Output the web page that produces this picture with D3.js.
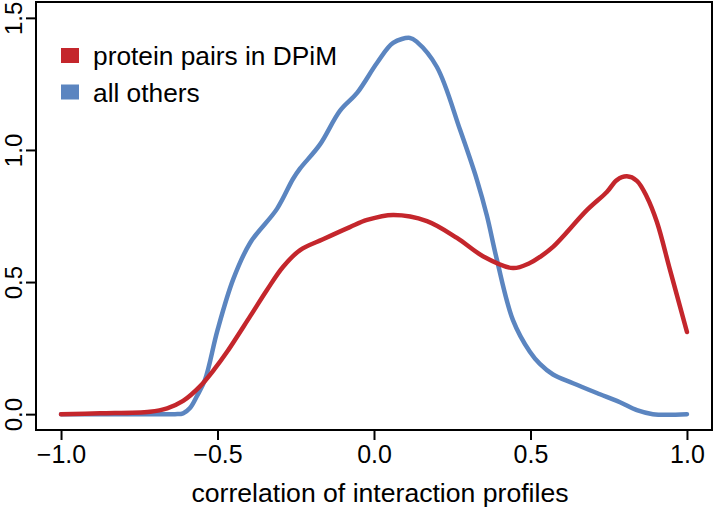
<!DOCTYPE html>
<html>
<head>
<meta charset="utf-8">
<script src="https://cdn.jsdelivr.net/npm/d3@7"></script>
<style>
  html, body { margin: 0; padding: 0; background: #fff; }
  text { font-family: "Liberation Sans", Arial, Helvetica, sans-serif; fill: #000; }
</style>
</head>
<body>
<svg id="chart" width="713" height="511"></svg>
<script>
const seriesNames = ["protein pairs in DPiM", "all others"];
const seriesColors = ["#C4262C", "#5B85C0"];

const dpimX = [-1.0, -0.875, -0.716, -0.661, -0.61, -0.556, -0.51, -0.47, -0.396, -0.342, -0.291, -0.236, -0.163, -0.077, -0.022, 0.061, 0.169, 0.265, 0.348, 0.444, 0.498, 0.53, 0.572, 0.681, 0.744, 0.776, 0.808, 0.84, 0.872, 0.904, 0.946, 1.0];
const dpimY = [0.0, 0.003, 0.009, 0.022, 0.05, 0.105, 0.17, 0.235, 0.37, 0.47, 0.557, 0.621, 0.662, 0.708, 0.735, 0.754, 0.731, 0.667, 0.598, 0.553, 0.572, 0.595, 0.633, 0.773, 0.841, 0.886, 0.9, 0.883, 0.822, 0.727, 0.545, 0.311];

const othersX = [-1.0, -0.716, -0.636, -0.61, -0.588, -0.565, -0.54, -0.5, -0.45, -0.396, -0.31, -0.259, -0.236, -0.173, -0.109, -0.054, 0.01, 0.061, 0.115, 0.137, 0.201, 0.275, 0.329, 0.361, 0.393, 0.444, 0.498, 0.53, 0.572, 0.636, 0.712, 0.786, 0.84, 0.891, 1.0];
const othersY = [0.0, 0.0, 0.0, 0.003, 0.023, 0.07, 0.13, 0.318, 0.51, 0.648, 0.777, 0.89, 0.93, 1.02, 1.148, 1.216, 1.33, 1.405, 1.424, 1.409, 1.314, 1.076, 0.886, 0.75, 0.583, 0.356, 0.236, 0.19, 0.15, 0.117, 0.08, 0.045, 0.015, 0.0, 0.0];

const xTicks = [-1.0, -0.5, 0.0, 0.5, 1.0];
const yTicks = [0.0, 0.5, 1.0, 1.5];
const xLabel = "correlation of interaction profiles";

const svg = d3.select("#chart");
const x = d3.scaleLinear().domain([-1.08, 1.08]).range([36, 712]);
const y = d3.scaleLinear().domain([-0.06, 1.56]).range([430, 2]);

// box
svg.append("rect")
  .attr("x", x(-1.08)).attr("y", y(1.56))
  .attr("width", x(1.08) - x(-1.08)).attr("height", y(-0.06) - y(1.56))
  .attr("fill", "none").attr("stroke", "#000").attr("stroke-width", 2);

// x axis
const fmt = d => (d < 0 ? "\u2212" : "") + Math.abs(d).toFixed(1);
const xAxis = svg.append("g").attr("transform", `translate(0,${y(-0.06)})`)
  .call(d3.axisBottom(x).tickValues(xTicks).tickSize(10).tickSizeOuter(0).tickPadding(8).tickFormat(fmt));
xAxis.select(".domain").attr("d", `M${x(-1)},0H${x(1)}`).attr("stroke-width", 2);
xAxis.selectAll(".tick line").attr("stroke-width", 2);
xAxis.selectAll(".tick text").attr("font-size", 25).attr("font-family", "Liberation Sans, Arial, sans-serif")
  .attr("dy", null).attr("y", 33);

// y axis
const yAxis = svg.append("g").attr("transform", `translate(${x(-1.08)},0)`)
  .call(d3.axisLeft(y).tickValues(yTicks).tickSize(10).tickSizeOuter(0).tickFormat(fmt));
yAxis.select(".domain").attr("d", `M0,${y(0)}V${y(1.5)}`).attr("stroke-width", 2);
yAxis.selectAll(".tick line").attr("stroke-width", 2);
yAxis.selectAll(".tick text")
  .attr("font-size", 24).attr("font-family", "Liberation Sans, Arial, sans-serif")
  .attr("x", null).attr("dy", null)
  .attr("text-anchor", "middle")
  .attr("transform", "translate(-14,0) rotate(-90)");

// axis title
svg.append("text").attr("x", 380).attr("y", 502).attr("text-anchor", "middle")
  .attr("font-size", 26.6).text(xLabel);

// lines
const line = d3.line().x(d => x(d[0])).y(d => y(d[1])).curve(d3.curveCatmullRom.alpha(0.5));
const dpim = dpimX.map((v, i) => [v, dpimY[i]]);
const others = othersX.map((v, i) => [v, othersY[i]]);

svg.append("path").datum(others).attr("d", line).attr("fill", "none")
  .attr("stroke", seriesColors[1]).attr("stroke-width", 4.5).attr("stroke-linecap", "round").attr("stroke-linejoin", "round");
svg.append("path").datum(dpim).attr("d", line).attr("fill", "none")
  .attr("stroke", seriesColors[0]).attr("stroke-width", 4.5).attr("stroke-linecap", "round").attr("stroke-linejoin", "round");

// legend
const leg = svg.append("g");
seriesNames.forEach((name, i) => {
  leg.append("rect").attr("x", 61).attr("y", 48 + i * 36.5).attr("width", 18).attr("height", 15)
    .attr("fill", seriesColors[i]);
  leg.append("text").attr("x", 93).attr("y", 65 + i * 36.5).attr("font-size", 26.3).text(name);
});
</script>
</body>
</html>
